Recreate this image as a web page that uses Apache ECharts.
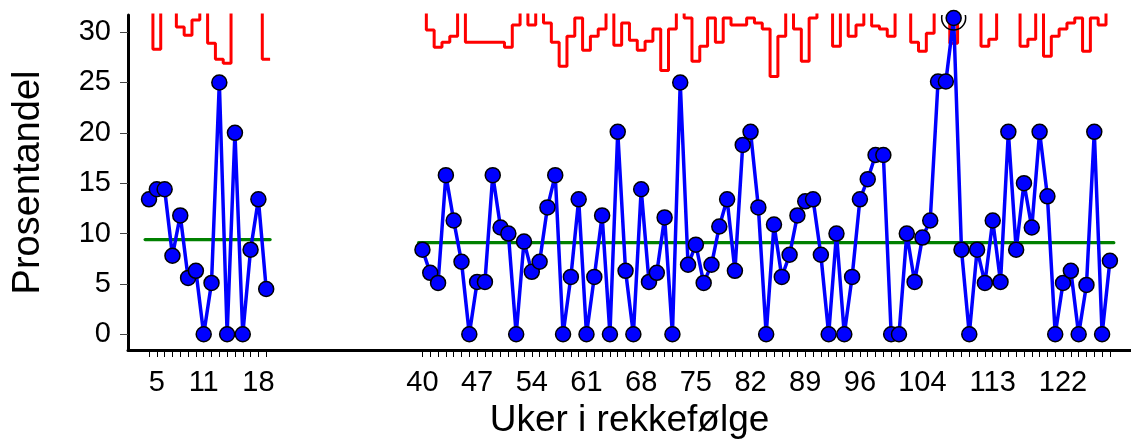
<!DOCTYPE html>
<html>
<head>
<meta charset="utf-8">
<script src="https://cdn.jsdelivr.net/npm/echarts@6/dist/echarts.min.js"></script>
<style>html,body{margin:0;padding:0;background:#fff}#c{width:1131px;height:439px}</style>
</head>
<body>
<div id="c"></div>
<script>
// ---- data ----
const weeksA = [4, 5, 6, 7, 8, 9, 10, 11, 12, 13, 14, 15, 16, 17, 18, 19];
const valuesA = [13.4, 14.4, 14.4, 7.8, 11.8, 5.6, 6.3, 0, 5.1, 25.0, 0, 20.0, 0, 8.4, 13.4, 4.5];
const uclA = [33.0, 28.3, 33.5, 32.8, 30.5, 29.7, 31.2, 33.0, 28.9, 27.3, 26.9, 40.0, 36.0, 33.0, 38.0, 27.3];
const centerA = 9.4;

const weeksB = [40, 41, 42, 43, 44, 45, 46, 47, 48, 49, 50, 51, 52, 53, 54, 55, 56, 57, 58, 59,
  60, 61, 62, 63, 64, 65, 66, 67, 68, 69, 70, 71, 72, 73, 74, 75, 76, 77, 78, 79,
  80, 81, 82, 83, 84, 85, 86, 87, 88, 89, 90, 91, 92, 93, 94, 95, 96, 97, 98, 99,
  100, 101, 102, 103, 104, 105, 106, 107, 108, 109, 110, 111, 112, 113, 114, 115, 116, 117, 118, 119,
  120, 121, 122, 123, 124, 125, 126, 127, 128];
const valuesB = [8.4, 6.1, 5.1, 15.8, 11.3, 7.2, 0, 5.2, 5.2, 15.8,
  10.6, 10.0, 0, 9.2, 6.2, 7.2, 12.6, 15.8, 0, 5.7,
  13.4, 0, 5.7, 11.8, 0, 20.1, 6.3, 0, 14.4, 5.2,
  6.1, 11.6, 0, 25.0, 6.9, 8.9, 5.1, 6.9, 10.7, 13.4,
  6.3, 18.8, 20.1, 12.6, 0, 10.9, 5.7, 7.9, 11.8, 13.2,
  13.4, 7.9, 0, 10.0, 0, 5.7, 13.4, 15.4, 17.8, 17.8,
  0, 0, 10.0, 5.2, 9.6, 11.3, 25.1, 25.1, 31.4, 8.4,
  0, 8.4, 5.1, 11.3, 5.2, 20.1, 8.4, 15.0, 10.6, 20.1,
  13.7, 0, 5.1, 6.3, 0, 4.9, 20.1, 0, 7.3];
const uclB = [33.0, 30.2, 28.5, 29.0, 29.6, 33.0, 29.0, 29.0, 29.0, 29.0,
  29.0, 28.5, 30.7, 33.0, 30.7, 33.0, 30.9, 29.0, 26.6, 29.6,
  31.4, 28.2, 29.6, 30.3, 33.0, 28.7, 30.9, 29.2, 28.2, 29.1,
  30.3, 26.2, 30.3, 33.0, 31.4, 27.1, 28.6, 31.4, 29.0, 31.4,
  30.7, 30.7, 31.4, 30.9, 30.3, 25.6, 29.6, 33.0, 30.3, 27.1,
  31.4, 33.0, 33.0, 28.6, 33.0, 29.6, 30.7, 33.0, 30.6, 30.3,
  29.6, 33.0, 33.0, 29.0, 28.1, 29.9, 33.0, 33.0, 28.9, 33.0,
  33.0, 33.0, 28.6, 29.3, 33.0, 33.0, 33.0, 28.6, 29.3, 33.0,
  27.6, 29.6, 30.3, 30.9, 31.4, 28.1, 31.4, 30.7, 33.0];
const centerB = 9.1;

const gapSlots = 19;                 // empty slots between the two periods
const xTickLabels = [5, 11, 18, 40, 47, 54, 61, 68, 75, 82, 89, 96, 104, 113, 122];
const yTickLabels = [0, 5, 10, 15, 20, 25, 30];
const signalWeeks = [108];

// ---- build ----
const posOf = {};
const weekAt = {};
weeksA.forEach((w, i) => { posOf[w] = i; weekAt[i] = w; });
weeksB.forEach((w, i) => { const p = weeksA.length + gapSlots + i; posOf[w] = p; weekAt[p] = w; });

const pts = (weeks, vals) => weeks.map((w, i) => [posOf[w], vals[i]]);
const stepPts = (weeks, vals) => {
  const d = pts(weeks, vals);
  return [[d[0][0] - 0.5, d[0][1]], ...d, [d[d.length - 1][0] + 0.5, d[d.length - 1][1]]];
};
const clPts = (weeks, c) => [[posOf[weeks[0]] - 0.5, c], [posOf[weeks[weeks.length - 1]] + 0.5, c]];

const tickPos = weeksA.concat(weeksB).map(w => posOf[w]);
const labelPos = xTickLabels.map(w => posOf[w]);
const signalData = signalWeeks.map(w => {
  const iB = weeksB.indexOf(w);
  return iB >= 0 ? [posOf[w], valuesB[iB]] : [posOf[w], valuesA[weeksA.indexOf(w)]];
});

const FONT = 'Liberation Sans';
const chart = echarts.init(document.getElementById('c'), null, {renderer: 'canvas'});

const clSeries = (data) => ({
  type: 'line', data, symbol: 'none', silent: true, z: 2,
  lineStyle: {color: '#008000', width: 3.2, cap: 'round'}
});
const uclSeries = (data) => ({
  type: 'line', data, symbol: 'none', step: 'middle', silent: true, clip: true, z: 3,
  lineStyle: {color: '#FF0000', width: 3}
});
const valSeries = (data) => ({
  type: 'line', data, symbol: 'circle', symbolSize: 15, silent: true, clip: true, z: 4,
  lineStyle: {color: '#0000FF', width: 3.5},
  itemStyle: {color: '#0000FF', borderColor: '#000', borderWidth: 1.5}
});

chart.setOption({
  animation: false,
  backgroundColor: '#fff',
  grid: {left: 128, right: 0, top: 15, bottom: 89, containLabel: false, outerBoundsMode: 'none'},
  xAxis: {
    type: 'value', min: -2.69, max: 125.7,
    name: 'Uker i rekkefølge', nameLocation: 'middle', nameGap: 51,
    nameTextStyle: {fontFamily: FONT, fontSize: 37, color: '#000'},
    axisLine: {show: true, onZero: false, lineStyle: {color: '#000', width: 3}},
    axisTick: {show: true, customValues: tickPos, length: 7, lineStyle: {color: '#000', width: 1}},
    axisLabel: {show: true, customValues: labelPos, margin: 18, fontFamily: FONT, fontSize: 29, color: '#000',
      formatter: v => String(weekAt[Math.round(v)] ?? '')},
    splitLine: {show: false}
  },
  yAxis: {
    type: 'value', min: -1.56, max: 31.7,
    name: 'Prosentandel', nameLocation: 'middle', nameGap: 80,
    nameTextStyle: {fontFamily: FONT, fontSize: 38, color: '#000'},
    axisLine: {show: true, onZero: false, lineStyle: {color: '#000', width: 3}},
    axisTick: {show: true, customValues: yTickLabels, length: 8, lineStyle: {color: '#444', width: 1}},
    axisLabel: {show: true, customValues: yTickLabels, margin: 17, fontFamily: FONT, fontSize: 29, color: '#000'},
    splitLine: {show: false}
  },
  series: [
    clSeries(clPts(weeksA, centerA)),
    clSeries(clPts(weeksB, centerB)),
    uclSeries(stepPts(weeksA, uclA)),
    uclSeries(stepPts(weeksB, uclB)),
    valSeries(pts(weeksA, valuesA)),
    valSeries(pts(weeksB, valuesB)),
    {
      type: 'custom', data: signalData, clip: true, silent: true, z: 5,
      renderItem: (params, api) => {
        const p = api.coord([api.value(0), api.value(1)]);
        return {type: 'circle', shape: {cx: p[0], cy: p[1], r: 12},
          style: {fill: 'none', stroke: '#000', lineWidth: 1.5}};
      }
    }
  ]
});
</script>
</body>
</html>
